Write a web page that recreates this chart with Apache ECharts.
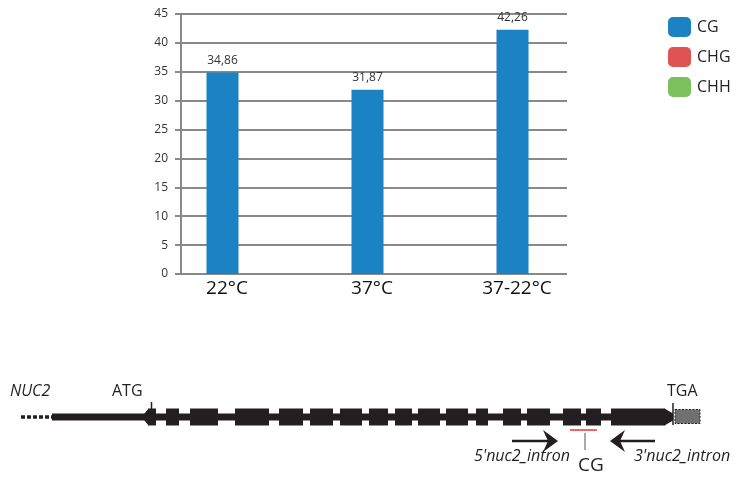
<!DOCTYPE html>
<html><head><meta charset="utf-8">
<script src="https://cdn.jsdelivr.net/npm/echarts@6/dist/echarts.min.js"></script>
<style>html,body{margin:0;padding:0;background:#fff}#c{width:736px;height:479px}</style>
</head><body><div id="c"></div>
<script>
// ---- bar chart data ----
const categories = ['22°C', '37°C', '37-22°C'];
const seriesNames = ['CG', 'CHG', 'CHH'];
const cgValues = [34.86, 31.87, 42.26];
const chgValues = [0, 0, 0];
const chhValues = [0, 0, 0];
const yMin = 0, yMax = 45, yStep = 5;

// ---- gene model (positions along the drawn gene) ----
const upstreamDotted = [21, 52];
const geneBackbone = [52, 672];
const exons = [[148,156],[166,179],[190,218],[235,269],[279,303],[310,333],[340,362],[369,388],[395,412],[418,440],[446,468],[476,488],[503,521],[527,550],[563,581],[586,601],[611,665]];
const utr3 = [675, 700];
const atgPos = 151.5;
const tgaPos = 673;
const primers = [[512, 558], [655, 610]];
const primerNames = ["5'nuc2_intron", "3'nuc2_intron"];
const cgSite = [570, 597];
const cgMarker = 585;

const INK = '#231f20';
const GRID = '#898989';
const COL = {CG: '#1b82c4', CHG: '#e05353', CHH: '#7cc15b'};
const fmt = v => v.toFixed(2).replace('.', ',');

const chart = echarts.init(document.getElementById('c'));

function backbone(params, api) {
  const a = api.coord([api.value(0), 0]), b = api.coord([api.value(1), 0]);
  return {type: 'rect', shape: {x: a[0], y: a[1] - 3.5, width: b[0] - a[0], height: 7}, style: {fill: INK}};
}
function exon(params, api) {
  const a = api.coord([api.value(0), 0]), b = api.coord([api.value(1), 0]);
  return {type: 'rect', shape: {x: a[0], y: a[1] - 8.5, width: b[0] - a[0], height: 17}, style: {fill: INK}};
}
function features(params, api) {
  const c = (x, y) => api.coord([x, y]);
  const d0 = c(upstreamDotted[0], 0), d1 = c(upstreamDotted[1], 0);
  const firstStart = exons[0][0], lastEnd = exons[exons.length - 1][1];
  const ch = [];
  ch.push({type: 'line', shape: {x1: d0[0], y1: d0[1], x2: d1[0], y2: d1[1]}, style: {stroke: INK, lineWidth: 3.5, lineDash: [4, 2]}});
  ch.push({type: 'polygon', shape: {points: [c(firstStart - 3.5, -3.5), c(firstStart + 0.5, -8.5), c(firstStart + 0.5, 8.5), c(firstStart - 3.5, 3.5)]}, style: {fill: INK}});
  ch.push({type: 'polygon', shape: {points: [c(lastEnd - 0.5, -8.5), c(tgaPos, -3.5), c(tgaPos, 3.5), c(lastEnd - 0.5, 8.5)]}, style: {fill: INK}});
  const a0 = c(atgPos, -15), a1 = c(atgPos, 0);
  ch.push({type: 'line', shape: {x1: a0[0], y1: a0[1], x2: a1[0], y2: a1[1]}, style: {stroke: INK, lineWidth: 1.5}});
  const t0 = c(tgaPos, -14), t1 = c(tgaPos, 8);
  ch.push({type: 'line', shape: {x1: t0[0], y1: t0[1], x2: t1[0], y2: t1[1]}, style: {stroke: INK, lineWidth: 1.5}});
  const u0 = c(utr3[0], -7.5), u1 = c(utr3[1], 6.5);
  ch.push({type: 'rect', shape: {x: u0[0], y: u0[1], width: u1[0] - u0[0], height: u1[1] - u0[1]}, style: {fill: '#6e7170', stroke: INK, lineWidth: 1, lineDash: [2, 1.5]}});
  // CG site
  const r0 = c(cgSite[0], 13), r1 = c(cgSite[1], 13);
  ch.push({type: 'line', shape: {x1: r0[0], y1: r0[1], x2: r1[0], y2: r1[1]}, style: {stroke: '#e53935', lineWidth: 1.5}});
  const g0 = c(cgMarker, 16), g1 = c(cgMarker, 33);
  ch.push({type: 'line', shape: {x1: g0[0], y1: g0[1], x2: g1[0], y2: g1[1]}, style: {stroke: '#555', lineWidth: 1}});
  return {type: 'group', children: ch};
}
function primer(params, api) {
  const from = api.value(0), to = api.value(1);
  const dir = to > from ? 1 : -1;
  const p0 = api.coord([from, 24]), p1 = api.coord([to - dir * 4, 24]);
  const tip = api.coord([to, 24]);
  const back = api.coord([to - dir * 15, 24]);
  const notch = api.coord([to - dir * 10, 24]);
  return {type: 'group', children: [
    {type: 'line', shape: {x1: p0[0], y1: p0[1], x2: p1[0], y2: p1[1]}, style: {stroke: INK, lineWidth: 2.5}},
    {type: 'polygon', shape: {points: [tip, [back[0], back[1] - 11], notch, [back[0], back[1] + 11]]}, style: {fill: INK}}
  ]};
}

const option = {
  animation: false,
  textStyle: {fontFamily: 'Open Sans'},
  legend: {
    orient: 'vertical', left: 663, top: 12, itemWidth: 23, itemHeight: 20, itemGap: 10,
    icon: 'roundRect', data: seriesNames,
    textStyle: {fontSize: 16, color: INK, padding: [0, 0, 0, 1]}
  },
  grid: [
    {left: 181, top: 14, width: 386, height: 260},
    {left: 150, top: 14, width: 435, height: 260},
    {left: 0, top: 367, width: 736, height: 100}
  ],
  xAxis: [
    {gridIndex: 0, type: 'category', data: categories, show: false},
    {gridIndex: 1, type: 'category', data: categories, axisLine: {show: false}, axisTick: {show: false},
     axisLabel: {fontSize: 19, color: '#111', margin: 5, padding: [0, 0, 0, 9]}},
    {gridIndex: 2, type: 'value', min: 0, max: 736, show: false}
  ],
  yAxis: [
    {gridIndex: 0, type: 'value', min: yMin, max: yMax, interval: yStep,
     axisLine: {show: true, lineStyle: {color: GRID, width: 2}},
     axisTick: {show: true, length: 6, lineStyle: {color: GRID, width: 2}},
     axisLabel: {fontSize: 12, color: '#333', margin: 13},
     splitLine: {show: true, lineStyle: {color: GRID, width: 2}}},
    {gridIndex: 1, type: 'value', min: yMin, max: yMax, show: false},
    {gridIndex: 2, type: 'value', min: -50, max: 50, inverse: true, show: false}
  ],
  series: [
    {name: 'CG', type: 'bar', xAxisIndex: 1, yAxisIndex: 1, data: cgValues, barWidth: 32,
     itemStyle: {color: COL.CG},
     label: {show: true, position: 'top', distance: 6, fontSize: 12, color: '#333', formatter: p => fmt(p.value)}},
    {name: 'CHG', type: 'bar', xAxisIndex: 0, yAxisIndex: 0, data: chgValues, itemStyle: {color: COL.CHG}},
    {name: 'CHH', type: 'bar', xAxisIndex: 0, yAxisIndex: 0, data: chhValues, itemStyle: {color: COL.CHH}},
    {type: 'custom', xAxisIndex: 2, yAxisIndex: 2, renderItem: backbone, data: [geneBackbone], silent: true},
    {type: 'custom', xAxisIndex: 2, yAxisIndex: 2, renderItem: exon, data: exons, silent: true},
    {type: 'custom', xAxisIndex: 2, yAxisIndex: 2, renderItem: features, data: [[0, 0]], silent: true},
    {type: 'custom', xAxisIndex: 2, yAxisIndex: 2, renderItem: primer, data: primers, silent: true}
  ],
  graphic: [
    {type: 'text', left: 10, top: 383, style: {text: 'NUC2', font: 'italic 16px "Open Sans"', fill: INK}},
    {type: 'text', left: 112, top: 383, style: {text: 'ATG', font: '16px "Open Sans"', fill: INK}},
    {type: 'text', left: 667, top: 383, style: {text: 'TGA', font: '16px "Open Sans"', fill: INK}},
    {type: 'text', right: 166, top: 448, style: {text: primerNames[0], font: 'italic 16px "Open Sans"', fill: INK}},
    {type: 'text', left: 634, top: 448, style: {text: primerNames[1], font: 'italic 16px "Open Sans"', fill: INK}},
    {type: 'text', left: 578, top: 456, style: {text: 'CG', font: '19px "Open Sans"', fill: INK}}
  ]
};
chart.setOption(option);
</script>
</body></html>
